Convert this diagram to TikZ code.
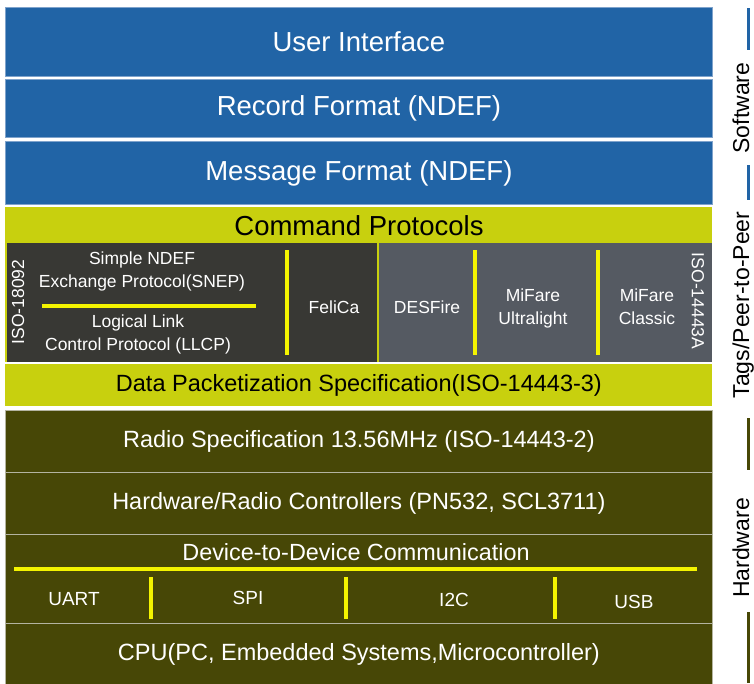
\documentclass[tikz,border=0pt]{standalone}
\usepackage{fontspec}
\setmainfont{Liberation Sans}

\definecolor{swblue}{HTML}{2164A6}
\definecolor{swedge}{HTML}{7FA3CC}
\definecolor{tagyellow}{HTML}{C8D00E}
\definecolor{p2pdark}{HTML}{383834}
\definecolor{tagslate}{HTML}{555A62}
\definecolor{hwolive}{HTML}{474706}
\definecolor{hwedge}{HTML}{B4B4A0}
\definecolor{busyellow}{HTML}{F4F400}

\begin{document}
\begin{tikzpicture}[
    x=1pt, y=-1pt,
    every node/.style={inner sep=0pt},
    layer/.style={rectangle, anchor=north west, minimum width=707pt, line width=0.8pt},
    swlayer/.style={layer, draw=swedge, fill=swblue, text=white, font=\fontsize{27.5}{32}\selectfont},
    taglayer/.style={layer, fill=tagyellow, font=\fontsize{23.5}{28}\selectfont},
    hwlayer/.style={layer, draw=hwedge, fill=hwolive, text=white, font=\fontsize{23.5}{28}\selectfont},
    cell/.style={rectangle, anchor=north west, minimum height=119pt},
    small/.style={text=white, align=center, font=\fontsize{17.5}{23}\selectfont},
    busname/.style={text=white, font=\fontsize{19}{23}\selectfont},
    sep/.style={busyellow, line width=3.5pt},
    side/.style={rotate=90, anchor=base, font=\fontsize{23}{27}\selectfont},
    sideline/.style={line width=3pt}
]
\useasboundingbox (0,0) rectangle (754,683);

% Software
\node[swlayer, minimum height=69pt] (ui) at (5,7) {User Interface};
\node[swlayer, minimum height=58pt] (rec) at (5,79) {Record Format (NDEF)};
\node[swlayer, minimum height=63pt] (msg) at (5,141) {Message Format (NDEF)};

% Tags / peer-to-peer
\node[taglayer, minimum height=155pt] (cmd) at (5,207) {};
\node[font=\fontsize{27.5}{32}\selectfont] (cmdtitle) at (359,226) {Command Protocols};
\node[cell, fill=p2pdark, minimum width=370pt] (p2p) at (7,243) {};
\node[cell, fill=tagslate, minimum width=333pt] (tags) at (379,243) {};
\node[taglayer, minimum height=42pt] (data) at (5,364) {Data Packetization Specification(ISO-14443-3)};

\node[small, rotate=90] (iso18092) at (18,302) {ISO-18092};
\node[small] (snep) at (142,271) {Simple NDEF\\Exchange Protocol(SNEP)};
\node[small] (llcp) at (138,334) {Logical Link\\Control Protocol (LLCP)};
\node[small] (felica) at (334,307) {FeliCa};
\draw[sep] (42,306) -- (256,306);
\draw[sep] (287,250) -- (287,355);

\node[small] (desfire) at (427,307) {DESFire};
\node[small] (ultralight) at (533,308) {MiFare\\Ultralight};
\node[small] (classic) at (647,307) {MiFare\\Classic};
\node[small, rotate=-90] (iso14443a) at (698,301) {ISO-14443A};
\draw[sep] (475,250) -- (475,355);
\draw[sep] (598,250) -- (598,355);

% Hardware
\node[hwlayer, minimum height=62pt] (radio) at (5,410) {Radio Specification 13.56MHz (ISO-14443-2)};
\node[hwlayer, minimum height=62pt] (ctrl) at (5,472) {Hardware/Radio Controllers (PN532, SCL3711)};
\node[hwlayer, minimum height=89pt] (bus) at (5,534) {};
\node[hwlayer, minimum height=62pt] (cpu) at (5,623) {CPU(PC, Embedded Systems,Microcontroller)};

\node[text=white, font=\fontsize{23.4}{28}\selectfont] (d2d) at (356,552) {Device-to-Device Communication};
\draw[sep] (14,569) -- (697,569);
\foreach \x in {151,346,555}
    \draw[sep] (\x,577) -- (\x,619);
\node[busname] (uart) at (74,599) {UART};
\node[busname] (spi) at (248,598) {SPI};
\node[busname] (i2c) at (454,600) {I2C};
\node[busname] (usb) at (634,602) {USB};

% Side labels
\node[side] (software) at (749,108) {Software};
\node[side] (tagsp2p) at (749,305) {Tags/Peer-to-Peer};
\node[side] (hardware) at (749,548) {Hardware};
\draw[sideline, swblue] (748,8) -- (748,50);
\draw[sideline, swblue] (748,165) -- (748,200);
\draw[sideline, hwolive] (748,418) -- (748,470);
\draw[sideline, hwolive] (748,612) -- (748,683);

\end{tikzpicture}
\end{document}
